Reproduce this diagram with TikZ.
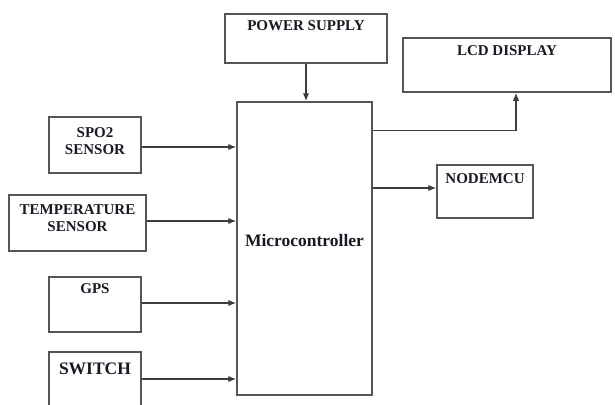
\documentclass[tikz,border=0pt]{standalone}
\usepackage{fontspec}
\setmainfont{Liberation Serif}
\usepackage{tikz}
\usetikzlibrary{positioning, arrows.meta}
\definecolor{boxgray}{RGB}{85, 85, 85}
\definecolor{txtdark}{RGB}{25, 25, 35}
\tikzset{
  box/.style={draw=boxgray, line width=1.5pt, fill=white, inner sep=0pt},
  tag/.style={anchor=north, yshift=-#1, text=txtdark, align=center,
              font=\bfseries\fontsize{15}{17.5}\selectfont, inner sep=0pt},
  tag/.default=7pt,
  arr/.style={-{Latex[length=8pt, width=6.5pt]}, line width=1.4pt, draw=boxgray!70!black},
}
\begin{document}
\begin{tikzpicture}[x=1pt, y=-1pt]
  \useasboundingbox (0,0) rectangle (615,404);
  \clip (0,0) rectangle (615,404);

  \node[box, minimum width=162pt, minimum height=49pt,
    label={[tag]north:POWER SUPPLY}] (power) at (306,38.5) {};
  \node[box, minimum width=208pt, minimum height=54pt,
    label={[tag=8pt]north:LCD DISPLAY}] (lcd) at (507,65) {};
  \node[box, minimum width=135pt, minimum height=293pt,
    label={[text=txtdark, font=\bfseries\fontsize{17.5}{20}\selectfont,
            yshift=8pt]center:Microcontroller}] (mc) at (304.5,248.5) {};
  \node[box, minimum width=96pt, minimum height=53pt,
    label={[tag=9pt]north:NODEMCU}] (nodemcu) at (485,191.5) {};

  % inputs on the left
  \node[box, minimum width=92pt, minimum height=56pt,
    label={[tag=11pt]north:SPO2\\SENSOR}] (spo2) at (95,145) {};
  \node[box, minimum width=137pt, minimum height=56pt,
    label={[tag=10pt]north:TEMPERATURE\\SENSOR}] (temp) at (77.5,223) {};
  \node[box, minimum width=92pt, minimum height=55pt,
    label={[tag]north:GPS}] (gps) at (95,304.5) {};
  \node[box, minimum width=92pt, minimum height=56pt,
    label={[tag=11pt, font=\bfseries\fontsize{17.5}{20}\selectfont]north:SWITCH}] (switch) at (95,380) {};

  \draw[arr] (power.south) -- (power.south |- mc.north);
  \draw[arr] ([yshift=-2pt]spo2.east) -- ([yshift=-2pt]spo2.east -| mc.west);
  \draw[arr] ([yshift=2pt]temp.east) -- ([yshift=2pt]temp.east -| mc.west);
  \draw[arr] ([yshift=1.5pt]gps.east) -- ([yshift=1.5pt]gps.east -| mc.west);
  \draw[arr] ([yshift=1pt]switch.east) -- ([yshift=1pt]switch.east -| mc.west);

  % outputs on the right
  \draw[arr] ([yshift=-29.5pt]mc.north east) -| ([xshift=9pt]lcd.south);
  \draw[arr] ([yshift=3.5pt]nodemcu.west -| mc.east) -- ([yshift=3.5pt]nodemcu.west);
\end{tikzpicture}
\end{document}
